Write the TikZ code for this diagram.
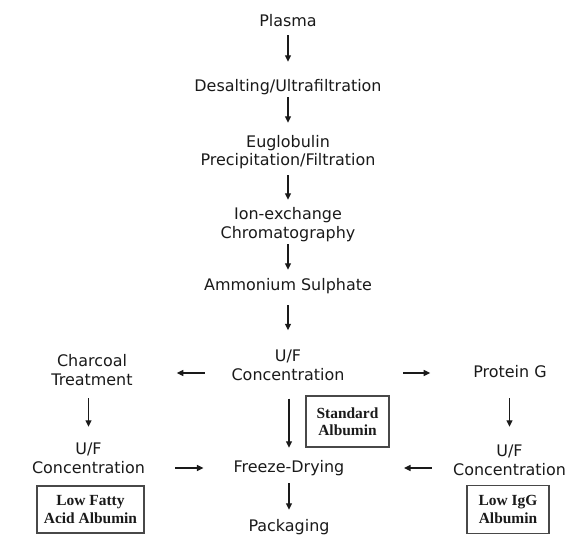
\documentclass[tikz,border=0pt]{standalone}
\usepackage{fontspec}
\setmainfont{DejaVu Sans}
\newfontfamily\boxfont{Liberation Serif}
\usetikzlibrary{arrows.meta}
\definecolor{ink}{HTML}{1A1A1A}
\begin{document}
\begin{tikzpicture}[x=1bp,y=-1bp,
  step text/.style={inner sep=0pt, align=center, text=ink,
    font={\fontsize{16}{19}\selectfont}, text height=12bp, text depth=4bp},
  step two/.style={step text, text height=31bp},
  albox/.style={draw=ink!80, line width=1.3bp, inner sep=0pt, align=center, text=ink,
    font={\boxfont\bfseries\fontsize{15.5}{17.5}\selectfont}},
  arr/.style={draw=ink, line width=1.2bp, -{Triangle[length=6.5bp,width=6bp]}}]
\useasboundingbox[fill=white] (0,0) rectangle (576,547);

\node[step text] (plasma) at (288,23) {Plasma};
\node[step text] (desalt) at (288,88) {Desalting/Ultrafiltration};
\node[step two] (euglob) at (288,152.5) {Euglobulin\\Precipitation/Filtration};
\node[step two] (ionex) at (288,225) {Ion-exchange\\Chromatography};
\node[step text] (ammon) at (288,286) {Ammonium Sulphate};
\node[step two] (uf) at (288,367) {U/F\\Concentration};
\node[step two] (charcoal) at (92,372) {Charcoal\\Treatment};
\node[step text] (protein) at (510,373) {Protein G};
\node[step two] (ufleft) at (88.5,459.5) {U/F\\Concentration};
\node[step text] (freeze) at (289,468) {Freeze-Drying};
\node[step two] (ufright) at (509.5,461.5) {U/F\\Concentration};
\node[step text] (pack) at (289,527) {Packaging};

\node[albox, minimum width=83bp, minimum height=51bp] (std) at (347.5,421.5) {Standard\\Albumin};
\node[albox, minimum width=107bp, minimum height=47bp] (lowfat) at (90.5,509.5) {Low Fatty\\Acid Albumin};
\node[albox, minimum width=82bp, minimum height=48bp] (lowigg) at (508,509.5) {Low IgG\\Albumin};

\draw[arr, shorten <=4bp, shorten >=18bp] (plasma) -- (desalt);
\draw[arr, shorten <=1bp, shorten >=12bp] (desalt) -- (euglob);
\draw[arr, shorten <=5bp, shorten >=7.5bp] (euglob) -- (ionex);
\draw[arr, shorten <=1.5bp, shorten >=8bp] (ionex) -- (ammon);
\draw[arr, shorten <=11bp, shorten >=19bp] (ammon) -- (uf);
\draw[arr, shorten <=26.5bp, shorten >=44bp] (uf.west |- protein) -- (charcoal.east |- protein);
\draw[arr, shorten <=58.5bp, shorten >=43bp] (uf.east |- protein) -- (protein.west);
\draw[arr, shorten <=8.5bp, shorten >=15bp] (charcoal.south -| ufleft) -- (ufleft.north);
\draw[arr, shorten <=17bp, shorten >=17bp] (protein.south -| ufright) -- (ufright.north);
\draw[arr, shorten <=14bp, shorten >=12bp] (uf.south -| freeze) -- (freeze.north);
\draw[arr, shorten <=30bp, shorten >=30bp] (ufleft.east |- freeze) -- (freeze.west);
\draw[arr, shorten <=21bp, shorten >=59.5bp] (ufright.west |- freeze) -- (freeze.east);
\draw[arr, shorten <=7bp, shorten >=9bp] (freeze) -- (pack);
\end{tikzpicture}
\end{document}
